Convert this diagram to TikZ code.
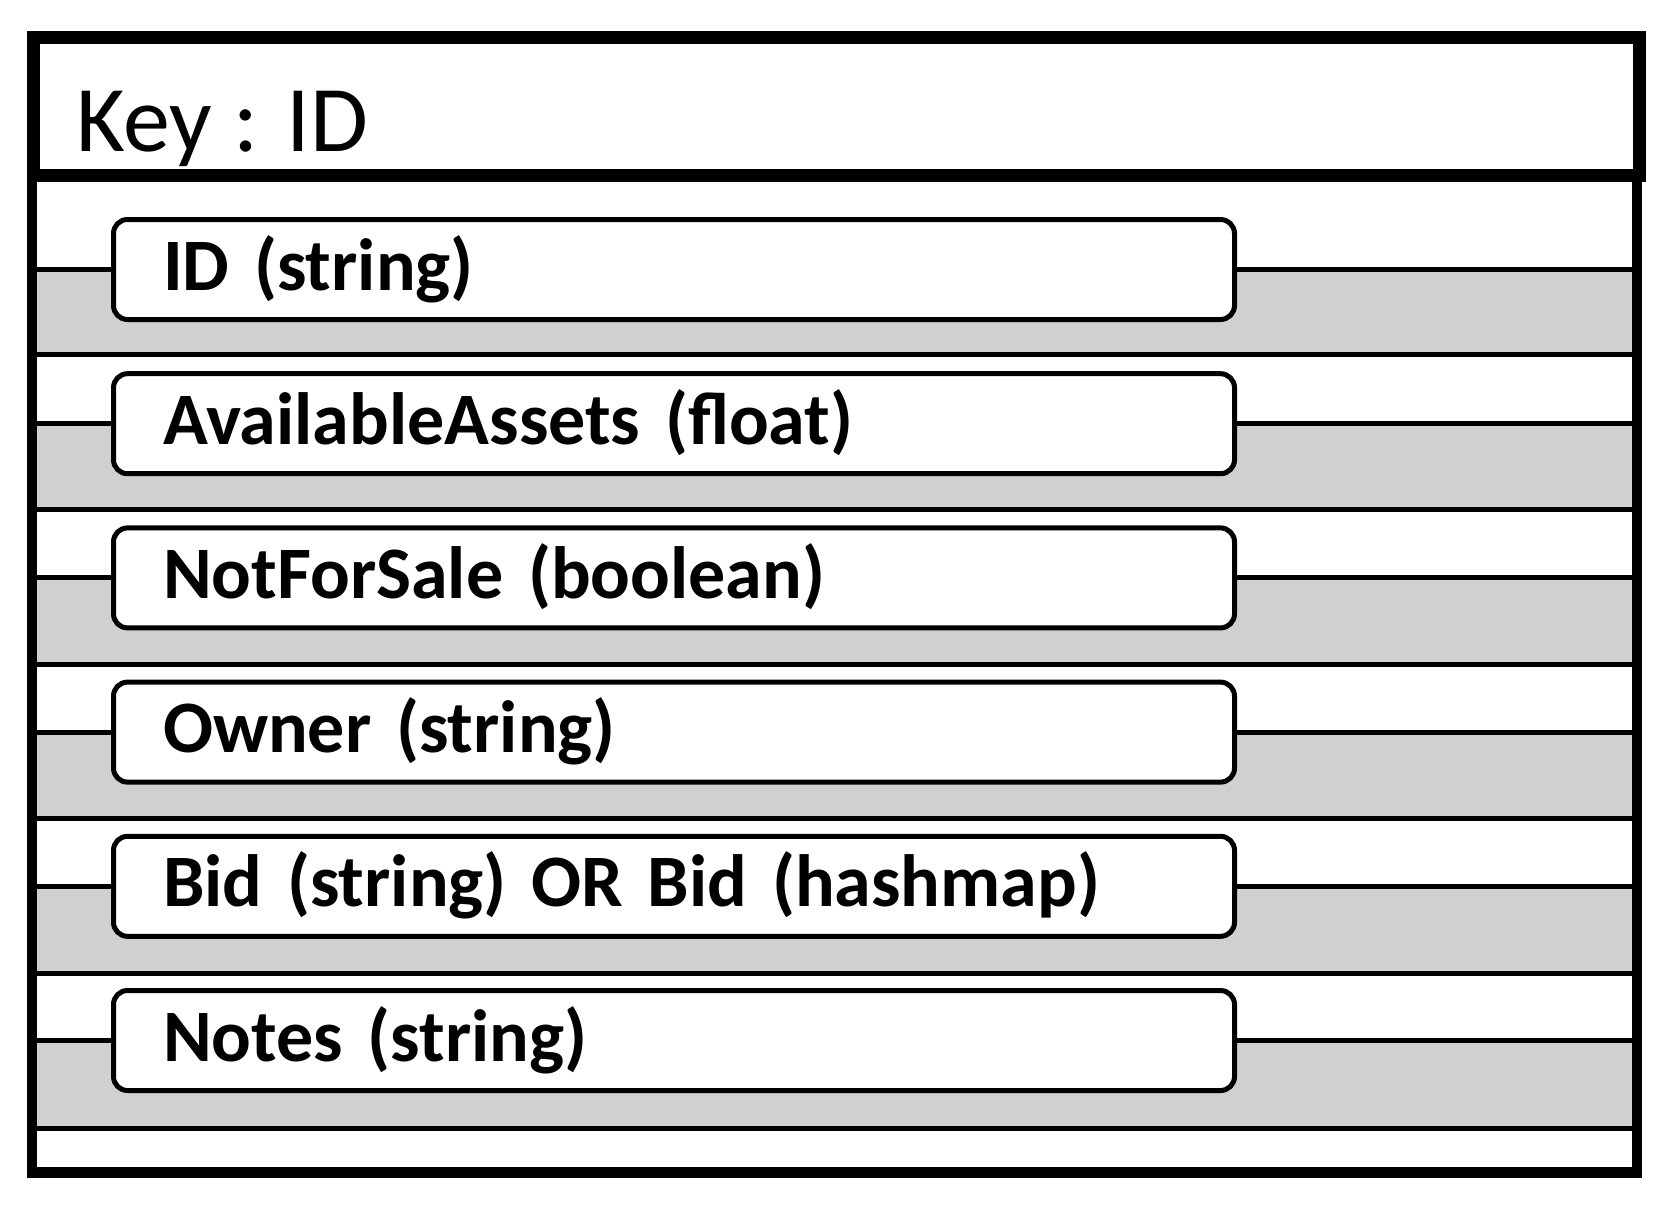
\documentclass[tikz,border=0pt]{standalone}
\usepackage{fontspec}
\setmainfont{Carlito}[BoldFeatures={WordSpace=0.7}]
\definecolor{rowgray}{RGB}{208,208,208}
\begin{document}
\begin{tikzpicture}[x=1pt,y=-1pt,
  field/.style={draw, line width=5pt, fill=white, rounded corners=14pt,
    minimum width=1121pt, minimum height=100pt, inner xsep=49.5pt, inner ysep=0pt,
    text width=1022pt, align=left, text height=54pt, text depth=13pt,
    font=\bfseries\fontsize{74}{80}\selectfont},
  link/.style={line width=5pt},
  sepline/.style={line width=5pt},
  header/.style={draw, line width=13pt, minimum width=1606pt, minimum height=137.5pt, inner sep=0pt, outer sep=0pt},
  keyfont/.style={font=\fontsize{94}{100}\selectfont, inner sep=0pt}]
\useasboundingbox (0,0) rectangle (1669,1207);
\fill[white] (0,0) rectangle (1669,1207);
\foreach \t [count=\i from 0] in {ID (string), AvailableAssets (float), NotForSale (boolean), Owner (string), Bid (string) OR Bid (hashmap), Notes (string)} {
  \pgfmathsetmacro{\yc}{269.5+154.2*\i}
  \pgfmathsetmacro{\ys}{354.5+154.8*\i}
  \fill[rowgray] (37,\yc) rectangle (1632,\ys);
  \draw[sepline] (37,\ys) -- (1632,\ys);
  \coordinate (l\i) at (37,\yc);
  \coordinate (r\i) at (1632,\yc);
  \node[field] (f\i) at (674,\yc) {\t};
  \draw[link] (l\i) -- (f\i.west);
  \draw[link] (f\i.east) -- (r\i);
}
\draw[line width=10.5pt] (32,175) -- (32,1172.5) -- (1637,1172.5) -- (1637,175);
\node[header, anchor=north west] (hdr) at (33.5,37.5) {};
\node[keyfont, anchor=base west] (keytxt) at (76,151) {Key : ID};
\end{tikzpicture}
\end{document}
